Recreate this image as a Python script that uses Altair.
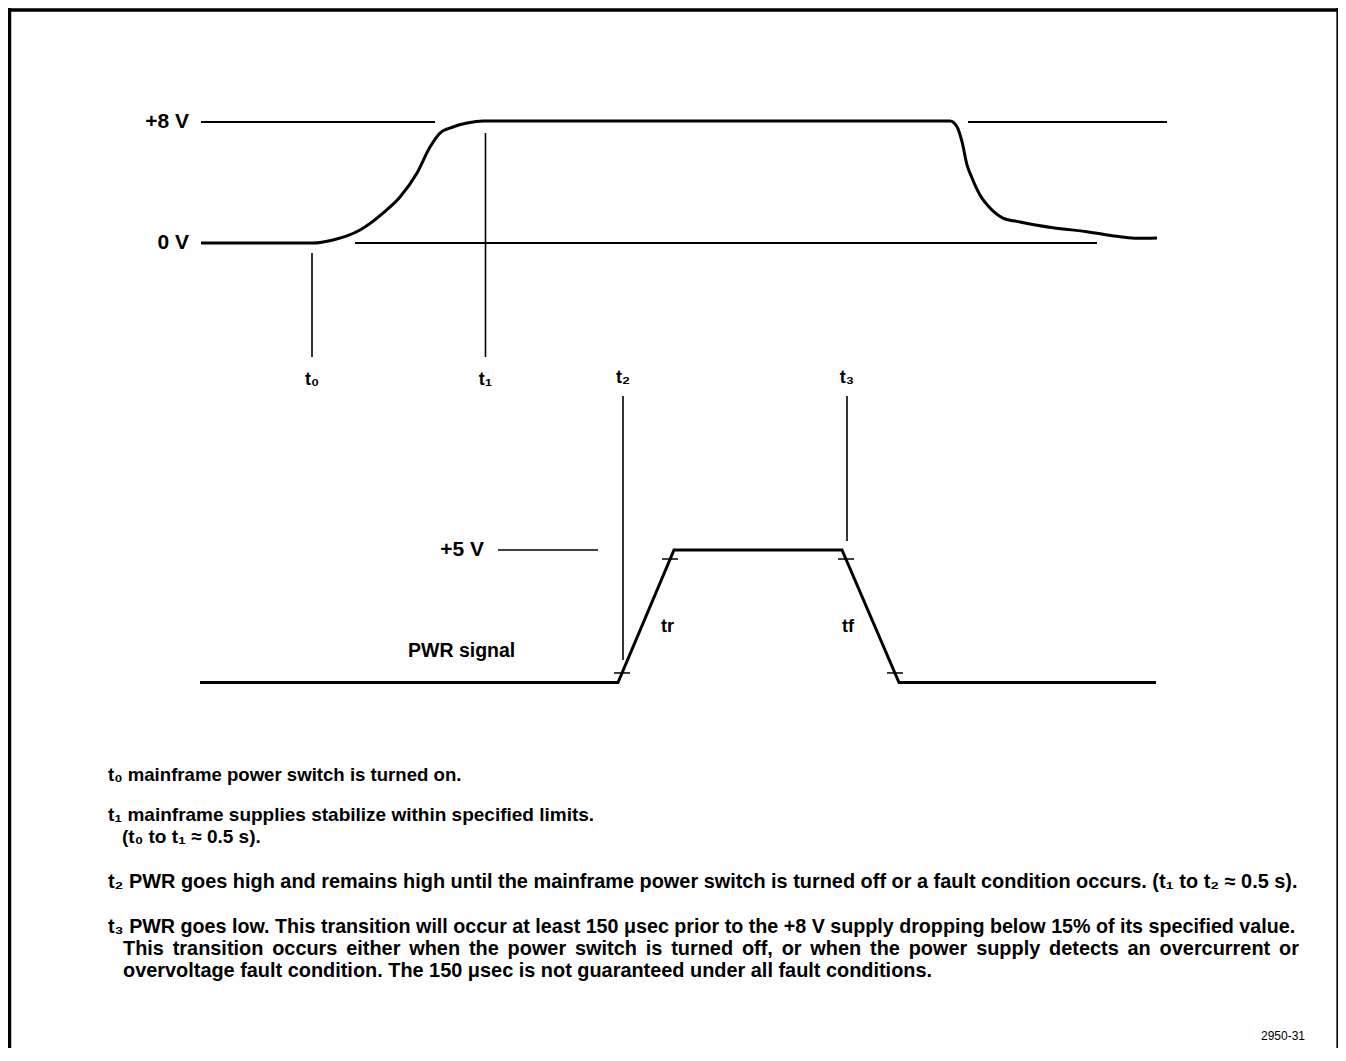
import altair as alt
import pandas as pd

# ---------------- data ----------------
# +8 V supply waveform (time in arbitrary units, volts)
supply_t = [201, 313, 333, 360, 383, 400, 417, 430, 440, 453, 467, 483, 950, 957,
            962, 967, 972, 980, 990, 1003, 1020, 1053, 1087, 1120, 1137, 1157]
supply_v = [0, 0, 0.2, 0.86, 1.98, 3.04, 4.63, 6.35, 7.27, 7.67, 7.93, 8.07, 8.07, 7.69,
            6.70, 5.16, 4.30, 3.17, 2.31, 1.65, 1.39, 1.01, 0.75, 0.42, 0.31, 0.33]

# PWR signal waveform
pwr_t = [200, 618, 674, 842, 899, 1156]
pwr_v = [0, 0, 5, 5, 0, 0]

# rise / fall time tick marks on the PWR edges
tick_t = [622, 670, 846, 895]
tick_v = [0.36, 4.66, 4.66, 0.36]

# reference level lines
ref_top_start = [201, 968, 355]
ref_top_end = [435, 1167, 1097]
ref_top_v = [8, 8, 0]
ref_bot_start = [498]
ref_bot_end = [598]
ref_bot_v = [5]

level_top_labels = ["+8 V", "0 V"]
level_top_v = [8, 0]
level_bot_labels = ["+5 V"]
level_bot_v = [5]

# event markers
marker_names = ["t\u2080", "t\u2081", "t\u2082", "t\u2083"]
marker_t = [312, 485.5, 623, 847]

# notes
notes = [
    "t\u2080 mainframe power switch is turned on.",
    "t\u2081 mainframe supplies stabilize within specified limits.",
    "(t\u2080 to t\u2081 \u2248 0.5 s).",
    "t\u2082 PWR goes high and remains high until the mainframe power switch is turned off or a fault condition occurs. (t\u2081 to t\u2082 \u2248 0.5 s).",
    "t\u2083 PWR goes low. This transition will occur at least 150 \u03bcsec prior to the +8 V supply dropping below 15% of its specified value.",
    "This transition occurs either when the power switch is turned off, or when the power supply detects an overcurrent or",
    "overvoltage fault condition. The 150 \u03bcsec is not guaranteed under all fault conditions.",
]
figure_id = "2950-31"

# ---------------- layout (positions / scales) ----------------
W, H = 1330, 1040
FONT = "Liberation Sans"
X = alt.Scale(domain=[8, 8 + W], range=[0, W], nice=False, zero=False)
YPX = alt.Scale(domain=[8, 8 + H], range=[0, H], nice=False, zero=False)
YTOP = alt.Scale(domain=[0, 8], range=[235, 114], nice=False, zero=False)
YBOT = alt.Scale(domain=[0, 5], range=[674.5, 542], nice=False, zero=False)


def xe(f):
    return alt.X(f, type="quantitative", scale=X, axis=None)


def ye(f, s):
    return alt.Y(f, type="quantitative", scale=s, axis=None)


# justified line: widen its word gaps slightly
notes_disp = list(notes)
notes_disp[5] = notes[5].replace(" ", " \u2006")

layers = []

# frame
frame_df = pd.DataFrame({"x": [8, 9.5, 8 + W - 0.8], "x2": [8 + W, 9.5, 8 + W - 0.8],
                         "y": [10, 8, 8], "y2": [10, 8 + H, 8 + H], "w": [3.5, 3.5, 1.6]})
layers.append(alt.Chart(frame_df).mark_rule(color="black").encode(
    x=xe("x"), x2="x2", y=ye("y", YPX), y2="y2",
    strokeWidth=alt.StrokeWidth("w:Q", scale=None)))

# reference lines
rt = pd.DataFrame({"a": ref_top_start, "b": ref_top_end, "v": ref_top_v})
layers.append(alt.Chart(rt).mark_rule(color="black", strokeWidth=1.8).encode(
    x=xe("a"), x2="b", y=ye("v", YTOP)))
rb = pd.DataFrame({"a": ref_bot_start, "b": ref_bot_end, "v": ref_bot_v})
layers.append(alt.Chart(rb).mark_rule(color="black", strokeWidth=1.6).encode(
    x=xe("a"), x2="b", y=ye("v", YBOT)))

# supply waveform
sdf = pd.DataFrame({"t": supply_t, "v": supply_v})
layers.append(alt.Chart(sdf).mark_line(color="black", strokeWidth=3, interpolate="monotone").encode(
    x=xe("t"), y=ye("v", YTOP)))

# PWR waveform
pdf = pd.DataFrame({"t": pwr_t, "v": pwr_v})
layers.append(alt.Chart(pdf).mark_line(color="black", strokeWidth=3).encode(
    x=xe("t"), y=ye("v", YBOT)))

# edge ticks
tdf = pd.DataFrame({"t": tick_t, "v": tick_v})
layers.append(alt.Chart(tdf).transform_calculate(a="datum.t - 8", b="datum.t + 8").mark_rule(
    color="black", strokeWidth=1.5).encode(x=xe("a"), x2="b", y=ye("v", YBOT)))

# marker lines
mdf = pd.DataFrame({"name": marker_names, "t": marker_t,
                    "y1": [253, 133, 396, 396], "y2": [357, 357, 660, 541],
                    "ly": [380, 380, 378, 378]})
layers.append(alt.Chart(mdf).mark_rule(color="black", strokeWidth=1.6).encode(
    x=xe("t"), y=ye("y1", YPX), y2="y2"))
layers.append(alt.Chart(mdf).mark_text(font=FONT, fontWeight="bold", fontSize=18, color="black").encode(
    x=xe("t"), y=ye("ly", YPX), text="name:N"))

# level labels
ltop = pd.DataFrame({"lab": level_top_labels, "v": level_top_v})
layers.append(alt.Chart(ltop).transform_calculate(xx="189").mark_text(
    font=FONT, fontWeight="bold", fontSize=21, align="right", color="black").encode(
    x=alt.X("xx:Q", scale=X, axis=None), y=ye("v", YTOP), text="lab:N"))
lbot = pd.DataFrame({"lab": level_bot_labels, "v": level_bot_v})
layers.append(alt.Chart(lbot).transform_calculate(xx="484").mark_text(
    font=FONT, fontWeight="bold", fontSize=21, align="right", color="black").encode(
    x=alt.X("xx:Q", scale=X, axis=None), y=ye("v", YBOT), text="lab:N"))

# inline labels (PWR signal, tr, tf)
il = pd.DataFrame({"lab": ["PWR signal", "tr", "tf"], "x": [408, 661, 842], "y": [651, 627, 627],
                   "fs": [19.5, 18, 18]})
layers.append(alt.Chart(il).mark_text(font=FONT, fontWeight="bold", align="left",
                                      color="black").encode(
    x=xe("x"), y=ye("y", YPX), text="lab:N", size=alt.Size("fs:Q", scale=None)))

# notes
ndf = pd.DataFrame({"txt": notes_disp, "x": [108, 108, 122, 108, 108, 123, 123],
                    "y": [775, 815, 837, 882, 927, 949, 971],
                    "fs": [18.6, 19.0, 19.0, 19.9, 19.7, 19.9, 19.9]})
layers.append(alt.Chart(ndf).mark_text(font=FONT, fontWeight="bold", align="left",
                                       color="black").encode(
    x=xe("x"), y=ye("y", YPX), text="txt:N", size=alt.Size("fs:Q", scale=None)))

# figure id
fdf = pd.DataFrame({"txt": [figure_id], "x": [1305], "y": [1036]})
layers.append(alt.Chart(fdf).mark_text(font=FONT, fontSize=12, align="right", color="black").encode(
    x=xe("x"), y=ye("y", YPX), text="txt:N"))

chart = alt.layer(*layers).resolve_scale(y="independent").properties(
    width=W, height=H, autosize=alt.AutoSizeParams(type="none"), padding=0,
    background="white").configure_view(stroke=None)

chart.save("out.html", embed_options={"renderer": "svg", "actions": False})
